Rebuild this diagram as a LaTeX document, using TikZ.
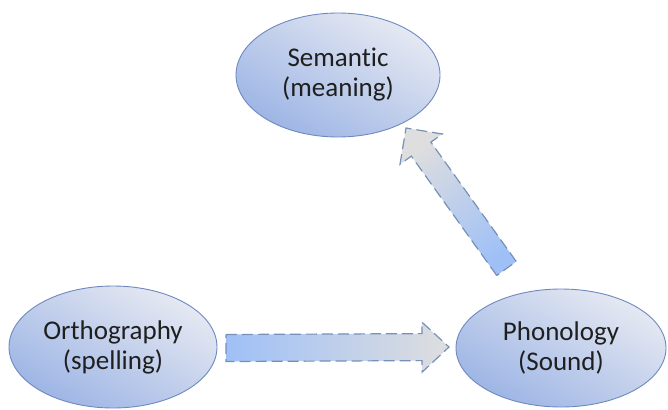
\documentclass[tikz,border=0pt]{standalone}
\usepackage{fontspec}
\setmainfont{Carlito}[Ligatures=NoCommon]
\usetikzlibrary{shapes.geometric,calc}
\definecolor{elllight}{HTML}{E6E9F2}
\definecolor{elldark}{HTML}{9DB5E5}
\definecolor{ellborder}{HTML}{6F89C0}
\definecolor{arrblue}{HTML}{9FC0F7}
\definecolor{arrgray}{HTML}{DEDEDE}
\definecolor{arrborder}{HTML}{7790B8}
\definecolor{txt}{HTML}{1F1F1F}
\newcommand{\blockarr}[6][]{%
  \coordinate (tmpb) at ($(#3)!#6!(#2)$);
  \path[#1] ($(#2)!#4!90:(#3)$) -- ($(tmpb)!#4!90:(#3)$) -- ($(tmpb)!#5!90:(#3)$) -- (#3)
    -- ($(tmpb)!#5!-90:(#3)$) -- ($(tmpb)!#4!-90:(#3)$) -- ($(#2)!#4!-90:(#3)$) -- cycle;
}
\begin{document}
\begin{tikzpicture}[x=1pt,y=-1pt,
  concept/.style={ellipse, draw=ellborder, line width=0.9pt, top color=elllight, bottom color=elldark, shading angle=-30,
    text=txt, font=\fontsize{27}{30}\selectfont, align=center, inner sep=0pt},
  arrowbox/.style={draw=arrborder, line width=1.2pt, dash pattern=on 11pt off 5pt, line join=miter}]
\useasboundingbox (0,0) rectangle (668,409);
\node[concept, minimum width=204pt, minimum height=124pt] (sem) at (338,75) {Semantic\\(meaning)};
\node[concept, minimum width=208pt, minimum height=122pt] (ort) at (113,347) {Orthography\\(spelling)};
\node[concept, minimum width=210pt, minimum height=118pt] (pho) at (561,348) {Phonology\\(Sound)};
\coordinate (a1s) at (226,348);
\coordinate (a1e) at (449,347);
\coordinate (a2s) at (506.5,268.5);
\coordinate (a2e) at (406,128);
\blockarr[arrowbox, left color=arrblue, right color=arrgray]{a1s}{a1e}{13.5pt}{25pt}{27pt}
\blockarr[arrowbox, top color=arrgray, bottom color=arrblue, shading angle=36]{a2s}{a2e}{12pt}{26pt}{26pt}
\end{tikzpicture}
\end{document}
